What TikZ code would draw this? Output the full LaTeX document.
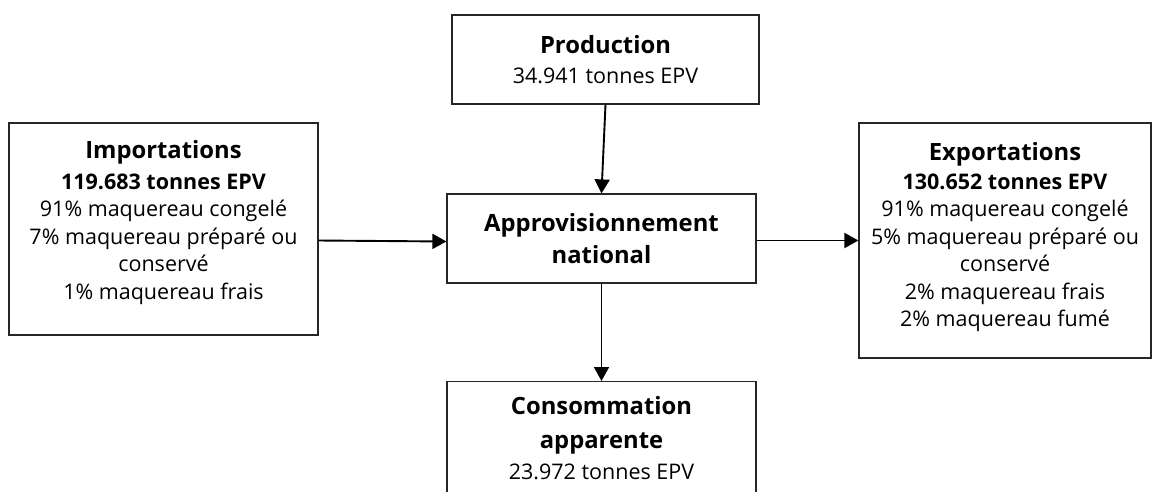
\documentclass[tikz,border=0pt]{standalone}
\usepackage{fontspec}
\setmainfont{Open Sans}
\usetikzlibrary{arrows.meta}
\begin{document}
\begin{tikzpicture}[x=1pt,y=-1pt,
  box/.style={draw=black!85,line width=1.2pt,align=center,inner sep=0pt,
    font=\fontsize{21.5}{27.5}\selectfont},
  arr/.style={line width=1.9pt,-{Triangle[length=14pt,width=15pt]}}]
\newcommand\hdtext[1]{{\fontsize{23.8}{27.5}\selectfont\bfseries #1}}
\newcommand\fixbox[4]{\begin{minipage}[c][#2][t]{#1}\centering\vspace*{#3}#4\end{minipage}}
\useasboundingbox (0,0) rectangle (1152,491);
\fill[white] (0,0) rectangle (1152,491);
\node[box,minimum width=307pt,minimum height=89pt] (prod) at (605.5,59.5)
  {\hdtext{Production}\\[2pt]34.941 tonnes EPV};
\node[box,minimum width=309pt,minimum height=89pt] (app) at (601.5,238.5)
  {\hdtext{Approvisionnement}\\[4pt]\hdtext{national}};
\node[box] (imp) at (163.5,229)
  {\fixbox{309pt}{212pt}{15.5pt}{\rule{0pt}{20pt}\hdtext{Importations}\\[3pt]\textbf{119.683 tonnes EPV}\\91\% maquereau congelé\\7\% maquereau préparé ou\\conservé\\1\% maquereau frais}};
\node[box] (exp) at (1005,240.5)
  {\fixbox{292pt}{235pt}{17pt}{\rule{0pt}{20pt}\hdtext{Exportations}\\[1.5pt]\textbf{130.652 tonnes EPV}\\91\% maquereau congelé\\5\% maquereau préparé ou\\conservé\\2\% maquereau frais\\2\% maquereau fumé}};
\node[box,minimum width=309pt,minimum height=160pt,anchor=north] (cons) at (601.5,381)
  {\hdtext{Consommation}\\[7pt]\hdtext{apparente}\\[3pt]23.972 tonnes EPV\\[20pt]};
\draw[arr] (prod.south) -- (app.north);
\draw[arr] (app.south) -- (cons.north);
\draw[arr] ([yshift=-2pt]imp.east |- app.west) -- ([yshift=-3pt]app.west);
\draw[arr] ([yshift=-2pt]app.east) -- ([yshift=-2pt]exp.west |- app.east);
\end{tikzpicture}
\end{document}
